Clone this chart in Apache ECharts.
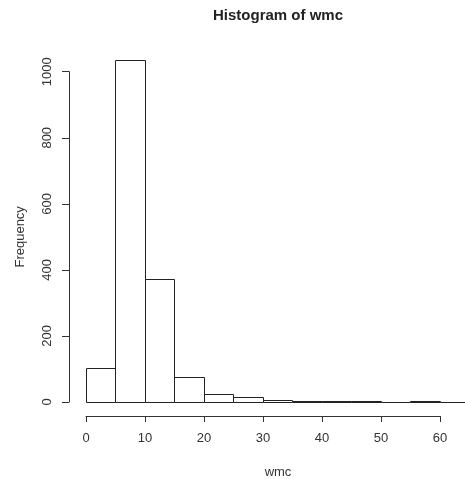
<!DOCTYPE html>
<html>
<head>
<meta charset="utf-8">
<script src="https://cdn.jsdelivr.net/npm/echarts@6/dist/echarts.min.js"></script>
<style>html,body{margin:0;padding:0;background:#fff;}#c{width:465px;height:479px;}</style>
</head>
<body>
<div id="c"></div>
<script>
var binStarts = [0,5,10,15,20,25,30,35,40,45,50,55,60];
var binWidth = 5;
var counts = [103,1034,373,75,24,14,7,3,2,2,1,2,1];
var xTicks = [0,10,20,30,40,50,60];
var yTicks = [0,200,400,600,800,1000];

var data = binStarts.map(function(s,i){ return [s, s+binWidth, counts[i]]; });
var font = 'Liberation Sans, Arial, sans-serif';
var chart = echarts.init(document.getElementById('c'), null, {renderer:'canvas'});
chart.setOption({
  animation:false,
  backgroundColor:'#fff',
  grid:[
    {left:86, right:0, top:71.7, bottom:77},
    {left:86, width:354, top:416, height:0}
  ],
  xAxis:[
    {gridIndex:0, type:'value', min:0, max:64.24, show:false},
    {gridIndex:1, type:'value', min:0, max:60, interval:10,
     axisLine:{show:true, onZero:false, lineStyle:{color:'#333', width:1}},
     axisTick:{show:true, length:6, lineStyle:{color:'#333'}},
     splitLine:{show:false},
     axisLabel:{margin:16, fontFamily:font, fontSize:13, color:'#333',
       formatter:function(v){ return xTicks.indexOf(v) >= 0 ? String(v) : ''; }}}
  ],
  yAxis:[
    {gridIndex:0, type:'value', min:0, max:1000, interval:200, offset:17,
     name:'Frequency', nameLocation:'middle', nameGap:42, nameRotate:90,
     nameTextStyle:{fontFamily:font, fontSize:13, color:'#333'},
     axisLine:{show:true, onZero:false, lineStyle:{color:'#333', width:1}},
     axisTick:{show:true, length:7, lineStyle:{color:'#333'}},
     splitLine:{show:false},
     axisLabel:{rotate:90, margin:15, fontFamily:font, fontSize:13, color:'#333',
       formatter:function(v){ return yTicks.indexOf(v) >= 0 ? String(v) : ''; }}},
    {gridIndex:1, type:'value', show:false}
  ],
  graphic:[
    {type:'text', x:278, y:16,
     style:{text:'Histogram of wmc', fontFamily:font, fontSize:15, fontWeight:'bold', fill:'#222',
       textAlign:'center', textVerticalAlign:'middle'}},
    {type:'text', x:278, y:472,
     style:{text:'wmc', fontFamily:font, fontSize:13, fill:'#333', textAlign:'center', textVerticalAlign:'middle'}}
  ],
  series:[{
    type:'custom', xAxisIndex:0, yAxisIndex:0, clip:false,
    renderItem:function(params, api){
      var p0 = api.coord([api.value(0), 0]);
      var p1 = api.coord([api.value(1), api.value(2)]);
      return {type:'rect',
        shape:{x:Math.round(p0[0])+0.5, y:Math.round(p1[1])+0.5,
               width:Math.round(p1[0])-Math.round(p0[0]), height:Math.round(p0[1])-Math.round(p1[1])},
        style:{fill:'#fff', stroke:'#222', lineWidth:1}};
    },
    encode:{x:[0,1], y:2},
    data:data
  }]
});
</script>
</body>
</html>
